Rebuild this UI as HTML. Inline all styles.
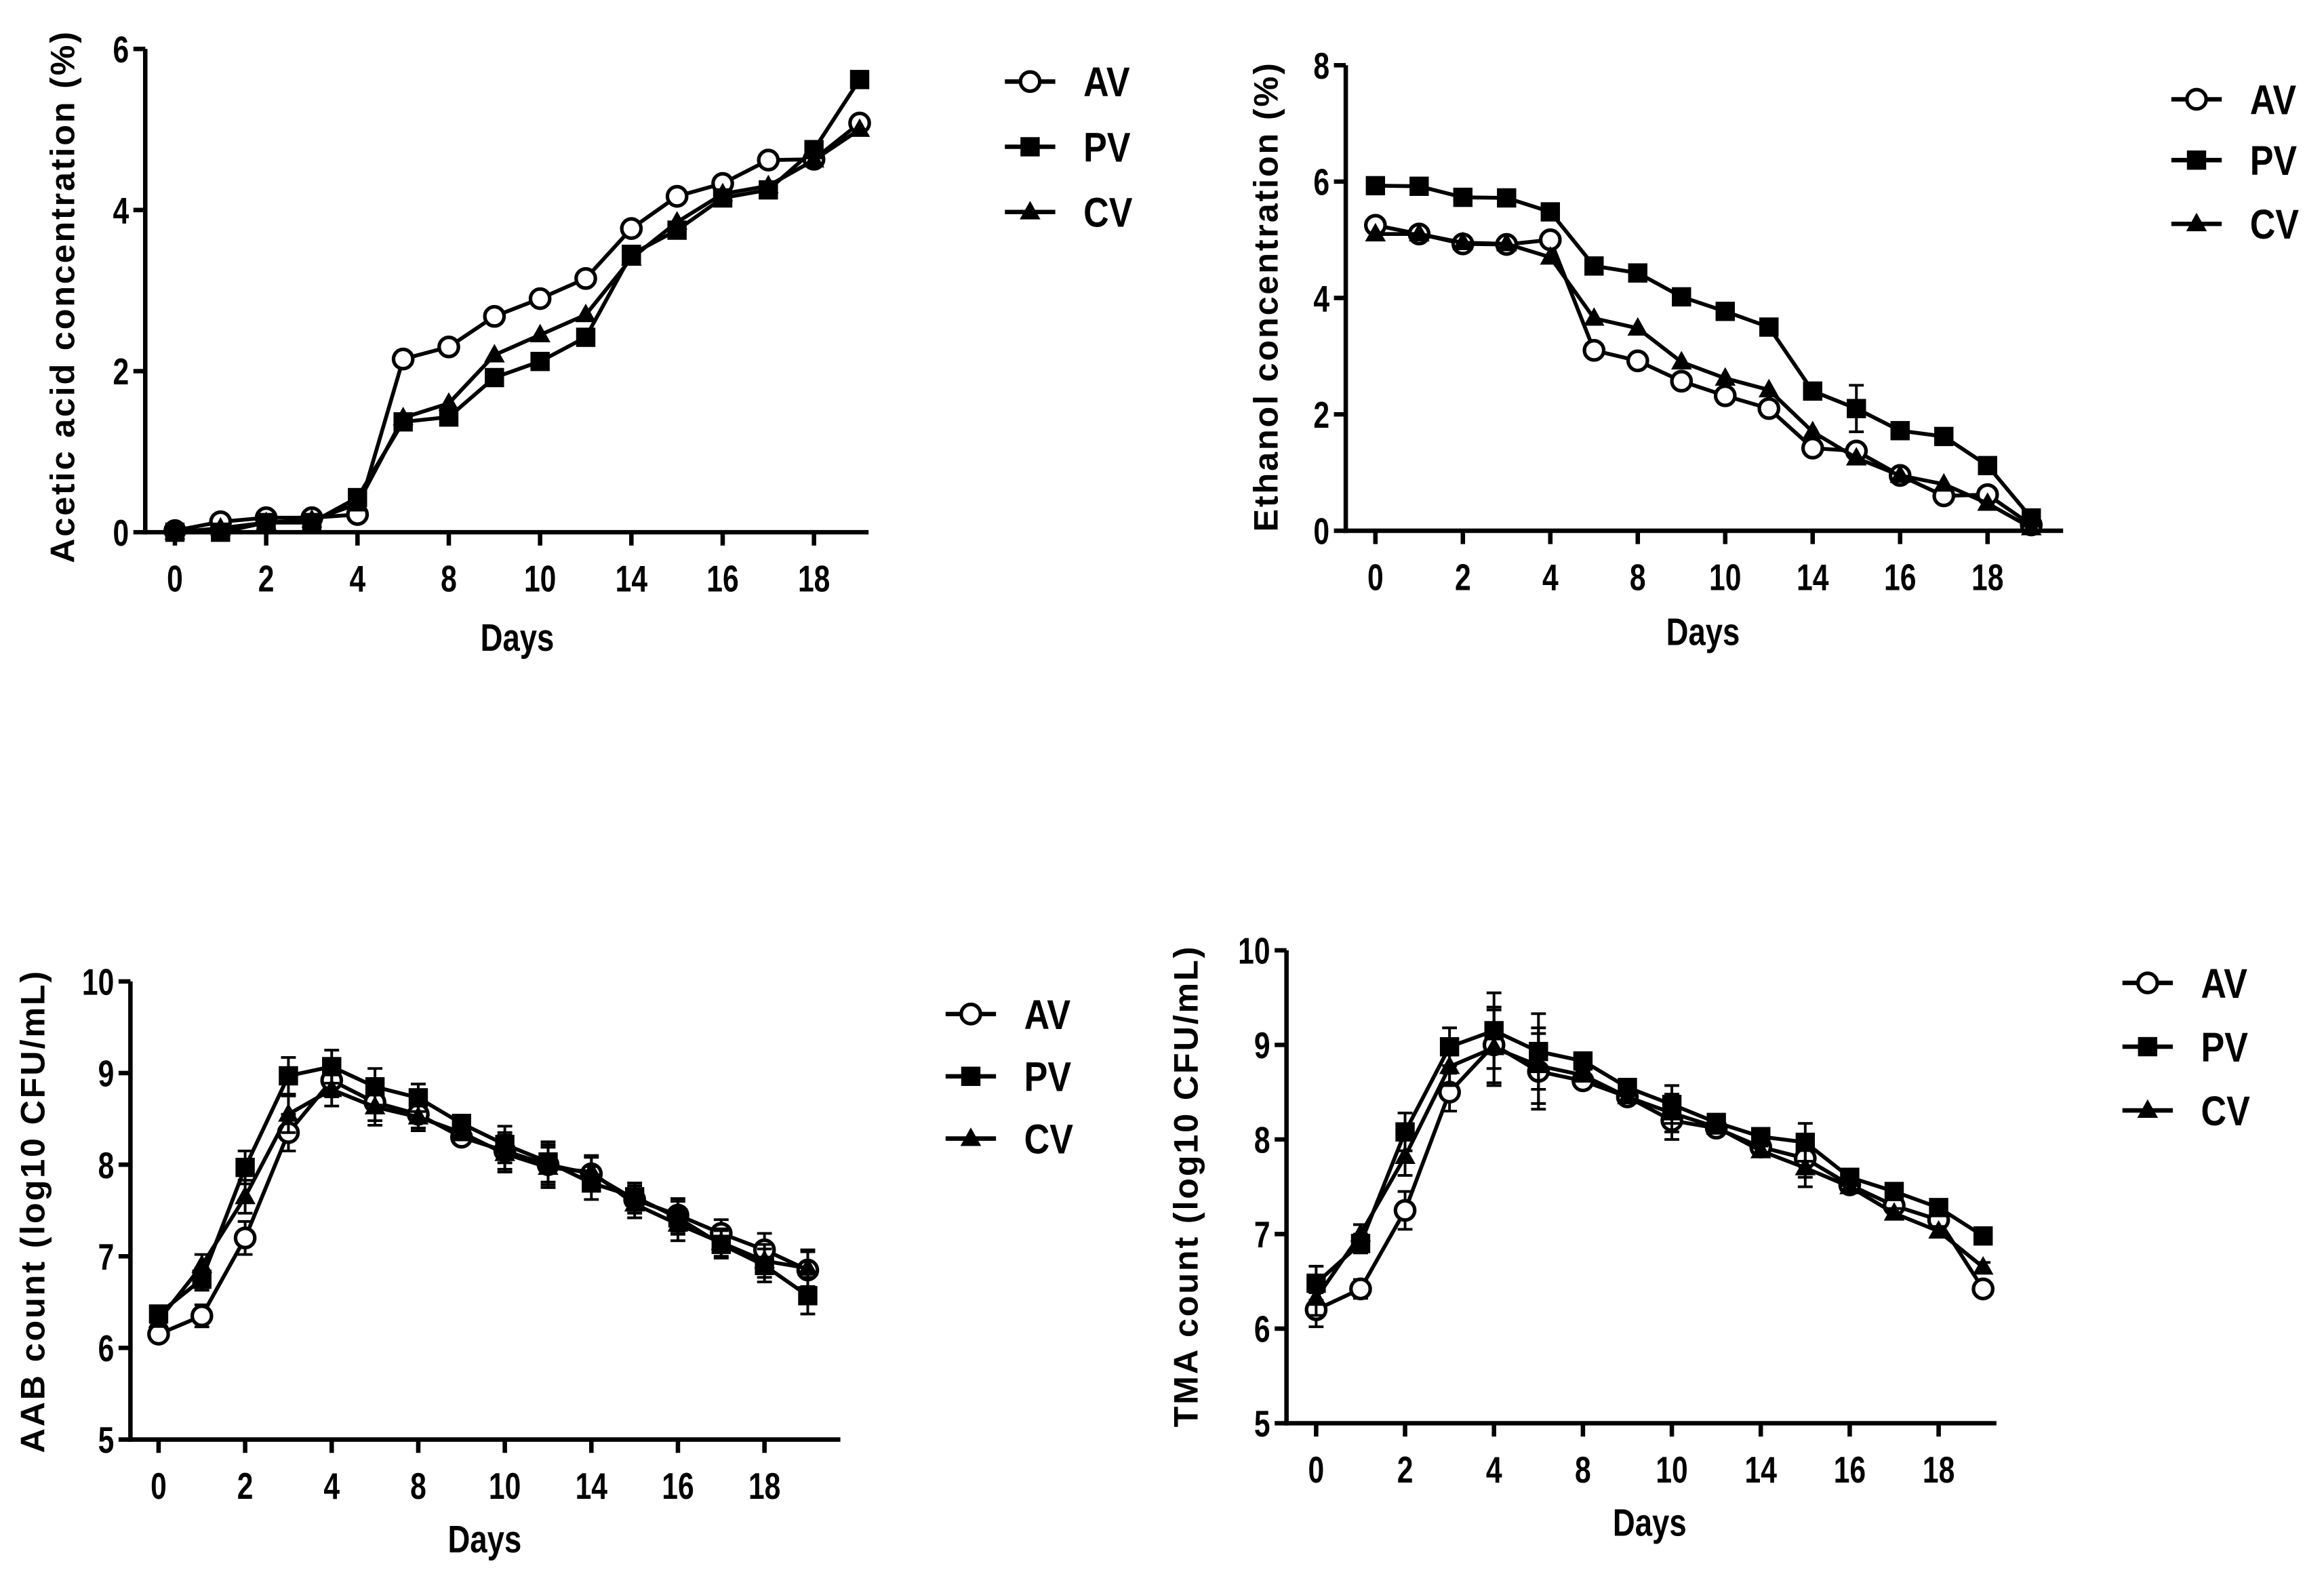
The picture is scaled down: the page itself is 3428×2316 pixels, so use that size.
<!DOCTYPE html>
<html><head><meta charset="utf-8"><style>
html,body{margin:0;padding:0;background:#fff}
svg{display:block}
text{font-family:"Liberation Sans",Arial,sans-serif;font-weight:bold;fill:#000}
</style></head><body>
<svg id="fig" width="3428" height="2316" viewBox="0 0 1568 1059" preserveAspectRatio="none" xmlns="http://www.w3.org/2000/svg"></svg>
<script>
const tickLabels = ["0","2","4","8","10","14","16","18"];
const seriesNames = ["AV","PV","CV"];
// Panel A: acetic acid
const acetAV = [0.02,0.13,0.18,0.18,0.22,2.15,2.3,2.68,2.9,3.15,3.77,4.17,4.33,4.62,4.63,5.08];
const acetPV = [0.0,0.0,0.12,0.12,0.43,1.37,1.43,1.92,2.12,2.42,3.45,3.75,4.15,4.25,4.75,5.62];
const acetCV = [0.0,0.05,0.12,0.15,0.35,1.42,1.6,2.2,2.45,2.7,3.4,3.85,4.2,4.3,4.62,5.0];
const acetTicks = [0,2,4,6];
// Panel B: ethanol
const ethAV = [5.25,5.1,4.93,4.92,5.0,3.1,2.92,2.57,2.32,2.1,1.42,1.37,0.95,0.6,0.62,0.1];
const ethPV = [5.93,5.92,5.73,5.72,5.48,4.55,4.43,4.02,3.77,3.5,2.4,2.1,1.72,1.62,1.12,0.22];
const ethCV = [5.1,5.1,4.95,4.93,4.7,3.65,3.48,2.9,2.62,2.42,1.7,1.25,0.95,0.8,0.47,0.05];
const ethPVerr = [0,0,0,0,0,0,0,0,0,0,0,0.4,0,0,0,0];
const ethTicks = [0,2,4,6,8];
// Panel C: AAB
const aabAV = [6.15,6.35,7.2,8.35,8.92,8.68,8.55,8.3,8.15,8.0,7.9,7.62,7.45,7.25,7.07,6.85];
const aabPV = [6.37,6.75,7.97,8.97,9.07,8.85,8.73,8.45,8.22,8.03,7.8,7.65,7.42,7.13,6.9,6.57];
const aabCV = [6.3,6.9,7.65,8.55,8.82,8.63,8.52,8.35,8.12,7.97,7.92,7.57,7.35,7.15,6.95,6.87];
const aabErr = [0.05,0.12,0.18,0.2,0.18,0.2,0.15,0.08,0.2,0.22,0.18,0.15,0.18,0.15,0.18,0.2];
const aabTicks = [5,6,7,8,9,10];
// Panel D: TMA
const tmaAV = [6.2,6.42,7.25,8.5,9.0,8.72,8.62,8.45,8.2,8.12,7.92,7.8,7.52,7.3,7.15,6.42];
const tmaPV = [6.48,6.9,8.08,8.98,9.15,8.93,8.83,8.55,8.37,8.18,8.03,7.97,7.6,7.45,7.28,6.98];
const tmaCV = [6.32,7.0,7.82,8.77,8.97,8.78,8.68,8.45,8.28,8.13,7.88,7.7,7.5,7.22,7.03,6.65];
const tmaErr = [0.18,0.1,0.2,0.2,0.4,0.4,0.05,0.05,0.2,0.05,0.05,0.2,0.05,0.05,0.05,0.05];
const tmaTicks = [5,6,7,8,9,10];

const NS="http://www.w3.org/2000/svg";
const svg=document.getElementById('fig');
function mk(tag,attrs,parent){const e=document.createElementNS(NS,tag);for(const k in attrs)e.setAttribute(k,attrs[k]);(parent||svg).appendChild(e);return e;}

function panel(cfg){
  const g=mk('g',{});
  
  
  const yS=v=>cfg.y0px-(v-cfg.ymin)*(cfg.y0px-cfg.y1px)/(cfg.ymax-cfg.ymin);
  const xS=i=>cfg.x0+i*cfg.step;
  const ya=mk('line',{x1:cfg.ax,y1:cfg.y1px,x2:cfg.ax,y2:cfg.y0px+1.5,stroke:'#000','stroke-width':3},g);
  
  
  const xa=mk('line',{x1:cfg.ax-1.5,y1:cfg.y0px,x2:cfg.axEnd,y2:cfg.y0px,stroke:'#000','stroke-width':3},g);
  
  
  cfg.yticks.forEach(v=>{
    const y=yS(v);
    mk('line',{x1:cfg.ax-8,y1:y,x2:cfg.ax,y2:y,stroke:'#000','stroke-width':3},g);
    const t=mk('text',{x:0,y:0,'text-anchor':'end','font-size':25,transform:`translate(${cfg.ax-11},${y+9}) scale(0.78,1)`},g);
    t.textContent=v;
    
    
  });
  tickLabels.forEach((lab,k)=>{
    const x=xS(k*2);
    mk('line',{x1:x,y1:cfg.y0px,x2:x,y2:cfg.y0px+9,stroke:'#000','stroke-width':3},g);
    const t=mk('text',{x:0,y:0,'text-anchor':'middle','font-size':25,transform:`translate(${x},${cfg.y0px+40}) scale(0.78,1)`},g);
    t.textContent=lab;
    
    
  });
  const xt=mk('text',{x:0,y:0,'text-anchor':'middle','font-size':26,transform:`translate(${cfg.daysX},${cfg.daysY}) scale(0.8,1)`},g);
  xt.textContent='Days';
  
  
  const yt=mk('text',{x:0,y:0,'text-anchor':'middle','font-size':23,'letter-spacing':1.3,transform:`translate(${cfg.ytX},${cfg.ytY}) rotate(-90)`},g);
  yt.textContent=cfg.ytitle;
  
  
  cfg.series.forEach((vals,si)=>{
    const sg=mk('g',{},g);
    
    
    const pts=vals.map((v,i)=>xS(i)+','+yS(v)).join(' ');
    mk('polyline',{points:pts,fill:'none',stroke:'#000','stroke-width':2.6,'stroke-linejoin':'round'},sg);
    const errs=cfg.errs?cfg.errs[si]:null;
    vals.forEach((v,i)=>{
      const x=xS(i),y=yS(v);
      if(errs&&errs[i]>0){
        const e=errs[i];
        mk('path',{d:`M${x},${yS(v+e)}V${yS(v-e)}M${x-5},${yS(v+e)}H${x+5}M${x-5},${yS(v-e)}H${x+5}`,stroke:'#000','stroke-width':1.8,fill:'none'},sg);
      }
      marker(sg,si,x,y);
    });
  });
  seriesNames.forEach((n,si)=>{
    const y=cfg.legY[si];
    const lg=mk('g',{},g);
    
    
    mk('line',{x1:cfg.legX,y1:y,x2:cfg.legX+34,y2:y,stroke:'#000','stroke-width':3},lg);
    marker(lg,si,cfg.legX+17,y);
    const t=mk('text',{x:0,y:0,'font-size':28,transform:`translate(${cfg.legX+53},${y+10}) scale(0.85,1)`},lg);
    t.textContent=n;
  });
}
function marker(p,si,x,y){
  if(si===0) mk('circle',{cx:x,cy:y,r:6.5,fill:'#fff',stroke:'#000','stroke-width':2.4},p);
  else if(si===1) mk('rect',{x:x-6.5,y:y-6.5,width:13,height:13,fill:'#000'},p);
  else mk('polygon',{points:`${x},${y-7.5} ${x+7},${y+5} ${x-7},${y+5}`,fill:'#000'},p);
}

panel({name:'acetic-acid-chart',ax:98,axEnd:586,y0px:359,y1px:33,ymin:0,ymax:6,x0:118,step:30.8,
  yticks:acetTicks,series:[acetAV,acetPV,acetCV],ytitle:'Acetic acid concentration (%)',ytX:50,ytY:200,
  daysX:349,daysY:439,legX:678,legY:[55,99,143]});
panel({name:'ethanol-chart',ax:908,axEnd:1392,y0px:358,y1px:44,ymin:0,ymax:8,x0:928,step:29.5,
  yticks:ethTicks,series:[ethAV,ethPV,ethCV],errs:[null,ethPVerr,null],ytitle:'Ethanol concentration (%)',ytX:862,ytY:200,
  daysX:1149,daysY:435,legX:1465,legY:[67,108,151]});
panel({name:'aab-count-chart',ax:88,axEnd:567,y0px:971,y1px:662,ymin:5,ymax:10,x0:107,step:29.2,
  yticks:aabTicks,series:[aabAV,aabPV,aabCV],errs:[aabErr,aabErr,aabErr],ytitle:'AAB count (log10 CFU/mL)',ytX:30,ytY:817,
  daysX:327,daysY:1047,legX:638,legY:[684,726,768]});
panel({name:'tma-count-chart',ax:868,axEnd:1347,y0px:960,y1px:641,ymin:5,ymax:10,x0:888,step:30,
  yticks:tmaTicks,series:[tmaAV,tmaPV,tmaCV],errs:[tmaErr,tmaErr,tmaErr],ytitle:'TMA count (log10 CFU/mL)',ytX:808,ytY:800,
  daysX:1113,daysY:1036,legX:1432,legY:[663,706,749]});
</script>
</body></html>
